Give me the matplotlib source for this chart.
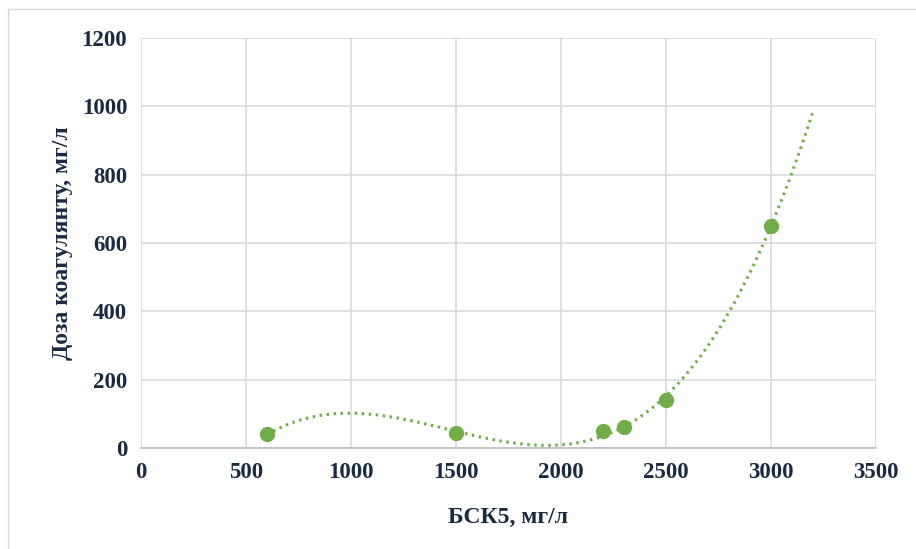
import matplotlib.pyplot as plt
import numpy as np
from matplotlib.patches import Rectangle

# data
bsk5 = np.array([600, 1500, 2200, 2300, 2500, 3000])
dose = np.array([40, 45, 50, 60, 140, 650])

x_ticks = [0, 500, 1000, 1500, 2000, 2500, 3000, 3500]
y_ticks = [0, 200, 400, 600, 800, 1000, 1200]

text_color = '#1b2a44'
green = '#70ad47'

plt.rcParams['font.family'] = ['Liberation Serif', 'DejaVu Serif']

fig = plt.figure(figsize=(9.16, 5.49), dpi=100)
ax = fig.add_axes([0.154, 0.184, 0.802, 0.747])

# polynomial trendline (3rd order), extended forward by 200
coef = np.polyfit(bsk5, dose, 3)
xt = np.linspace(600, 3200, 300)
ax.plot(xt, np.polyval(coef, xt), color=green, lw=2.2, linestyle=(0, (0.8, 1.5)),
        zorder=2)

ax.scatter(bsk5, dose, s=100, color=green, zorder=3)

ax.set_xlim(0, 3500)
ax.set_ylim(0, 1200)
ax.set_xticks(x_ticks)
ax.set_yticks(y_ticks)
ax.grid(True, color='#d9d9d9', lw=1.2)
ax.set_axisbelow(True)
for s in ['top', 'right', 'left']:
    ax.spines[s].set_visible(False)
ax.spines['bottom'].set_color('#bfbfbf')
ax.spines['bottom'].set_linewidth(1.2)
ax.tick_params(length=0, pad=10, labelsize=16.5, labelcolor=text_color)
for lab in ax.get_xticklabels() + ax.get_yticklabels():
    lab.set_fontweight('bold')

ax.set_xlabel('БСК5, мг/л', fontsize=17, fontweight='bold', color=text_color,
              labelpad=17)
ax.set_ylabel('Доза коагулянту, мг/л', fontsize=17, fontweight='bold',
              color=text_color, labelpad=6)

# chart area border
fig.patches.append(Rectangle((8 / 916, -0.1), 1.2, 1.1 - 9 / 549,
                             transform=fig.transFigure, fill=False,
                             edgecolor='#d9d9d9', lw=1))

fig.savefig('out.png', dpi=100)
